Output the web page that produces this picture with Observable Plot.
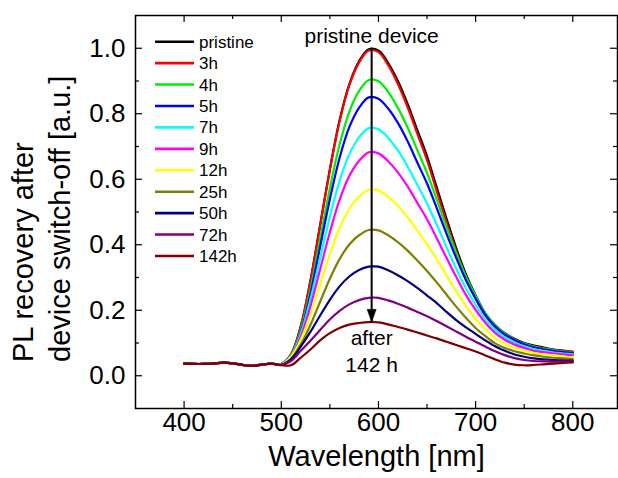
<!DOCTYPE html>
<html><head><meta charset="utf-8">
<script src="https://cdn.jsdelivr.net/npm/d3@7"></script>
<script src="https://cdn.jsdelivr.net/npm/@observablehq/plot@0.6"></script>
<style>
html,body{margin:0;padding:0;background:#fff;}
#chart{width:618px;height:478px;}
</style></head><body><div id="chart"></div>
<script>
// ---- data ----
const wavelengths = [400,410,420,430,440,450,460,470,480,490,500,510,520,530,540,550,560,570,580,590,600,610,620,630,640,650,660,670,680,690,700,710,720,730,740,750,760,770,780,790,800];
const seriesNames = ["pristine","3h","4h","5h","7h","9h","12h","25h","50h","72h","142h"];
const seriesColors = ["#000000","#ff0000","#00ee00","#0000ff","#00ffff","#ff00ff","#ffff00","#808000","#000080","#800080","#800000"];

const pristine = [0.037,0.036,0.036,0.037,0.040,0.038,0.033,0.030,0.034,0.037, 0.036,0.065,0.150,0.290,0.460,0.630,0.780,0.890,0.960,0.997,0.993,0.955,0.900,0.830,0.750,0.670,0.575,0.480,0.390,0.310,0.245,0.190,0.155,0.130,0.113,0.100,0.092,0.086,0.080,0.077,0.073];
const h3  = [0.037,0.036,0.036,0.037,0.040,0.038,0.033,0.030,0.034,0.037, 0.036,0.064,0.149,0.289,0.458,0.628,0.777,0.887,0.956,0.993,0.988,0.948,0.891,0.820,0.739,0.658,0.563,0.469,0.380,0.301,0.238,0.184,0.150,0.126,0.110,0.097,0.090,0.084,0.079,0.076,0.073];
const h4  = [0.037,0.036,0.036,0.037,0.040,0.038,0.033,0.030,0.034,0.037, 0.036,0.062,0.139,0.264,0.418,0.572,0.706,0.806,0.869,0.903,0.899,0.867,0.818,0.758,0.689,0.619,0.538,0.455,0.375,0.303,0.243,0.191,0.154,0.129,0.111,0.098,0.089,0.083,0.078,0.074,0.070];
const h5  = [0.037,0.036,0.036,0.037,0.040,0.038,0.033,0.030,0.034,0.037, 0.035,0.060,0.132,0.250,0.394,0.539,0.665,0.759,0.818,0.850,0.846,0.816,0.772,0.716,0.651,0.587,0.512,0.434,0.360,0.292,0.235,0.186,0.150,0.126,0.109,0.096,0.087,0.081,0.076,0.072,0.069];
const h7  = [0.037,0.036,0.036,0.037,0.040,0.038,0.033,0.030,0.034,0.037, 0.035,0.061,0.128,0.233,0.359,0.485,0.595,0.676,0.728,0.756,0.753,0.727,0.688,0.639,0.583,0.526,0.461,0.393,0.327,0.267,0.216,0.173,0.140,0.117,0.101,0.090,0.081,0.076,0.071,0.068,0.065];
const h9  = [0.037,0.036,0.036,0.037,0.040,0.038,0.033,0.030,0.034,0.037, 0.034,0.058,0.118,0.212,0.325,0.438,0.537,0.610,0.656,0.682,0.679,0.655,0.621,0.578,0.528,0.478,0.420,0.360,0.302,0.247,0.201,0.162,0.131,0.110,0.095,0.085,0.076,0.072,0.068,0.065,0.062];
const h12 = [0.037,0.036,0.036,0.037,0.040,0.038,0.033,0.030,0.034,0.037, 0.034,0.058,0.109,0.187,0.279,0.371,0.451,0.510,0.547,0.567,0.566,0.546,0.518,0.484,0.443,0.402,0.356,0.306,0.258,0.213,0.174,0.142,0.115,0.098,0.085,0.076,0.069,0.065,0.062,0.059,0.056];
const h25 = [0.037,0.036,0.036,0.037,0.040,0.038,0.033,0.030,0.034,0.037, 0.034,0.052,0.095,0.155,0.226,0.296,0.356,0.401,0.429,0.445,0.444,0.429,0.408,0.382,0.352,0.320,0.285,0.248,0.211,0.177,0.146,0.121,0.099,0.085,0.075,0.068,0.062,0.058,0.055,0.053,0.051];
const h50 = [0.037,0.036,0.036,0.037,0.040,0.038,0.033,0.030,0.034,0.037, 0.033,0.050,0.089,0.134,0.184,0.232,0.273,0.303,0.323,0.333,0.333,0.322,0.307,0.289,0.268,0.245,0.222,0.195,0.170,0.148,0.128,0.108,0.090,0.076,0.065,0.058,0.053,0.050,0.048,0.047,0.046];
const h72 = [0.037,0.036,0.036,0.037,0.040,0.038,0.033,0.030,0.034,0.037, 0.033,0.045,0.076,0.107,0.140,0.172,0.198,0.218,0.231,0.238,0.238,0.230,0.220,0.208,0.195,0.182,0.167,0.151,0.135,0.119,0.104,0.089,0.075,0.063,0.054,0.048,0.045,0.044,0.043,0.043,0.044];
const h142= [0.037,0.036,0.036,0.037,0.040,0.038,0.033,0.030,0.034,0.037, 0.032,0.032,0.055,0.080,0.108,0.130,0.146,0.156,0.161,0.164,0.163,0.157,0.149,0.141,0.132,0.123,0.114,0.104,0.094,0.084,0.074,0.062,0.050,0.040,0.034,0.032,0.033,0.035,0.037,0.039,0.041];
const seriesValues = [pristine,h3,h4,h5,h7,h9,h12,h25,h50,h72,h142];

const xDomain = [350, 846];
const yDomain = [-0.1, 1.1];
const xMajor = [400,500,600,700,800];
const xMinor = [450,550,650,750];
const yMajor = [0.0,0.2,0.4,0.6,0.8,1.0];
const yMinor = [0.1,0.3,0.5,0.7,0.9];

// annotation: arrow from pristine peak down to 142h peak
const arrowX = 593;
const arrowFrom = 1.0;
const arrowTo = 0.163;
const notes = [
  {x: 593, y: 1.036, t: "pristine device"},
  {x: 593, y: 0.113, t: "after"},
  {x: 593, y: 0.031, t: "142 h"}
];

// ---- layout ----
const W = 618, H = 478, mL = 135, mR = 1, mT = 15, mB = 70;
const frameW = W - mL - mR, frameH = H - mT - mB;

// ---- build ----
const rows = [];
seriesNames.forEach((name, i) => wavelengths.forEach((w, j) => rows.push({series: name, wl: w, pl: seriesValues[i][j]})));

const font = "'Liberation Sans', Arial, Helvetica, sans-serif";
const arrowHead = {draw(ctx) { ctx.moveTo(0, 0); ctx.lineTo(-4.5, -13); ctx.lineTo(4.5, -13); ctx.closePath(); }};

// inward tick marks: tickX/tickY spanning the frame, inset so only a short stub remains at one side
function ticksOn(side, values, len) {
  const o = {stroke: "black", strokeWidth: 1.2};
  if (side === "bottom") return Plot.tickX(values, {...o, x: d => d, insetTop: frameH - len});
  if (side === "top")    return Plot.tickX(values, {...o, x: d => d, insetBottom: frameH - len});
  if (side === "left")   return Plot.tickY(values, {...o, y: d => d, insetRight: frameW - len});
  return Plot.tickY(values, {...o, y: d => d, insetLeft: frameW - len});
}

const plot = Plot.plot({
  width: W, height: H,
  marginLeft: mL, marginRight: mR, marginTop: mT, marginBottom: mB,
  x: {domain: xDomain},
  y: {domain: yDomain},
  color: {domain: seriesNames, range: seriesColors},
  style: {fontFamily: font, color: "black", background: "white"},
  marks: [
    Plot.line(rows, {x: "wl", y: "pl", z: "series", stroke: "series", strokeWidth: 2.2, curve: "catmull-rom"}),
    Plot.ruleX([{x: arrowX, a: arrowFrom, b: arrowTo}], {x: "x", y1: "a", y2: "b", stroke: "black", strokeWidth: 2}),
    Plot.dot([{x: arrowX, y: arrowTo}], {x: "x", y: "y", symbol: arrowHead, fill: "black", stroke: "black", strokeWidth: 0.5, r: 5}),
    Plot.text(notes, {x: "x", y: "y", text: "t", fontSize: 21, fill: "black"}),
    Plot.frame({stroke: "black", strokeWidth: 1.5}),
    // tick labels
    Plot.axisX({ticks: xMajor, anchor: "bottom", tickSize: 0, tickPadding: 4, fontSize: 26, label: null, tickFormat: d => String(d)}),
    Plot.axisY({ticks: yMajor, anchor: "left", tickSize: 0, tickPadding: 10, fontSize: 26, label: null, tickFormat: d3.format(".1f")}),
    // inward ticks on all four sides
    ticksOn("bottom", xMajor, 7), ticksOn("bottom", xMinor, 4),
    ticksOn("top", xMajor, 7), ticksOn("top", xMinor, 4),
    ticksOn("left", yMajor, 7), ticksOn("left", yMinor, 4),
    ticksOn("right", yMajor, 7), ticksOn("right", yMinor, 4),
    // axis titles
    Plot.text(["Wavelength [nm]"], {frameAnchor: "bottom", dy: 57, fontSize: 29, fill: "black"}),
    Plot.text(["PL recovery after"], {frameAnchor: "left", rotate: -90, textAnchor: "start", dx: -112, dy: 150, fontSize: 29, fill: "black"}),
    Plot.text(["device switch-off [a.u.]"], {frameAnchor: "left", rotate: -90, textAnchor: "start", dx: -75, dy: 150, fontSize: 29, fill: "black"})
  ]
});

// legend inside the frame, top-left
const svg = d3.select(plot);
const lg = svg.append("g").attr("font-family", font).attr("font-size", 17).attr("fill", "black").attr("text-anchor", "start");
seriesNames.forEach((name, i) => {
  const y = 41.7 + i * 21.43;
  lg.append("line").attr("x1", 155).attr("x2", 194).attr("y1", y).attr("y2", y)
    .attr("stroke", seriesColors[i]).attr("stroke-width", 2.6);
  lg.append("text").attr("x", 199).attr("y", y).attr("dy", "0.35em").attr("text-anchor", "start").text(name);
});

document.getElementById("chart").appendChild(plot);
</script></body></html>
